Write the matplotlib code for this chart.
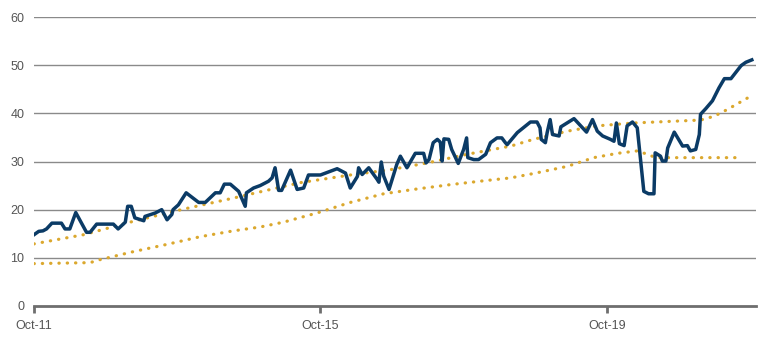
import matplotlib
matplotlib.use("Agg")
import matplotlib.pyplot as plt

plt.rcParams['font.family'] = ['Liberation Sans', 'DejaVu Sans']

# x positions are months since Oct-2011
blue_x = [0, 0.8, 1.5, 2.1, 3, 4.6, 5.2, 6, 7, 8.8, 9.4, 10.5, 13.3, 14.1, 15.3, 15.7, 16.3, 16.9,
          18.4, 18.6, 20.3, 21.4, 22.3, 23.1, 23.3, 24.2, 25.5, 27.6, 28.7, 30.4, 31.2, 31.9, 32.9,
          34.3, 35.4, 35.6, 36.8, 37.9, 39.3, 39.9, 40.4, 41, 41.5, 43, 44.1, 45.2, 46, 48,
          50.8, 52.2, 53, 54.2, 54.4, 55, 56.1, 57.5, 57.8, 58.2, 58.6, 59.5, 60.8, 61.4, 62.5,
          63.9, 65.3, 65.7, 66.2, 66.9, 67.6, 68.1, 68.4, 68.7, 69.5, 70, 71.1, 72, 72.5, 72.7,
          73.7, 74.5, 75.7, 76.5, 77.6, 78.4, 79.0, 79.3, 81, 83.2, 84.3, 84.8, 85, 85.7, 86,
          86.5, 86.9, 88, 88.3, 90.5, 92.6, 93.6, 94.4, 95.3, 96.6, 97.2, 97.6, 98.1, 98.9, 99.4,
          100.3, 101.1, 102.2, 103, 103.9, 104.1, 105, 105.3, 105.9, 106.2, 107.3, 108.7, 109.5,
          110, 110.9, 111.5, 111.7, 112.6, 113.7, 114.8, 115.7, 116.8, 118.5, 119.3, 120.3]
blue_y = [14.8, 15.5, 15.6, 16, 17.2, 17.2, 16, 16, 19.4, 15.3, 15.3, 17, 17, 16, 17.4, 20.7, 20.7, 18.3,
          17.7, 18.6, 19.3, 20, 17.9, 19, 20, 21, 23.5, 21.5, 21.5, 23.5, 23.5, 25.3, 25.3,
          23.8, 20.7, 23.5, 24.5, 25, 25.9, 26.6, 28.7, 24, 24, 28.2, 24.2, 24.5, 27.2, 27.2,
          28.5, 27.6, 24.5, 26.9, 28.7, 27.3, 28.7, 26.3, 25.7, 29.9, 27, 24.2, 29.4, 31.1, 28.7,
          31.7, 31.7, 29.7, 30.4, 33.9, 34.6, 34, 30.1, 34.7, 34.6, 32.5, 29.6, 32.5, 34.9, 30.8,
          30.4, 30.4, 31.5, 33.9, 34.9, 34.9, 33.9, 33.5, 36, 38.2, 38.2, 37, 34.6, 33.9, 36,
          38.7, 35.6, 35.3, 37.2, 38.9, 36.1, 38.7, 36.3, 35.3, 34.6, 34.2, 38, 33.7, 33.3, 37.4,
          38.2, 37, 23.8, 23.3, 23.3, 31.8, 31.1, 30.1, 30.1, 32.8, 36.1, 33.2, 33.3,
          32.2, 32.5, 35.6, 39.8, 41, 42.6, 45.3, 47.2, 47.2, 49.9, 50.6, 51.1]

upper_x = [0, 8.3, 16.7, 25, 33.4, 37.9, 44.6, 53, 59.7, 65.9, 72.6, 79.9, 83.7, 89.4, 94.4,
           100.5, 106.1, 111.7, 114, 116.2, 119.6]
upper_y = [12.9, 14.8, 17.6, 20.1, 22.4, 23.7, 25.6, 27.2, 28.3, 29.7, 31.5, 33.2, 34.6, 36.3, 37.4,
           38, 38.3, 38.6, 39.4, 40.8, 43.2]

lower_x = [0, 9.4, 11, 16.7, 22.3, 27.9, 33.4, 37.9, 41.8, 47.4, 53, 58.6, 64.2, 69.8, 75.4,
           79.9, 83.7, 89.4, 93.8, 97.8, 101.1, 102.8, 104.2, 106.2, 117.6]
lower_y = [8.8, 9.0, 9.6, 11.3, 12.8, 14.4, 15.6, 16.4, 17.4, 19.3, 21.5, 23.3, 24.3, 25.2, 26,
           26.6, 27.5, 29, 30.8, 31.7, 32.2, 31.5, 30.8, 30.8, 30.8]

xtick_pos = [0, 48, 96]
xtick_labels = ["Oct-11", "Oct-15", "Oct-19"]
yticks = [0, 10, 20, 30, 40, 50, 60]

BLUE = "#0B3B66"
GOLD = "#DBA82E"
GRID = "#8A8A8A"
TXT = "#555555"

fig = plt.figure(figsize=(7.7, 3.44), dpi=100)
ax = fig.add_axes([34/770, 1-306/344, (756-34)/770, (306-17)/344])

for v in yticks[1:]:
    ax.axhline(v, color=GRID, lw=1.0, zorder=1)

dot = (0, (0.1, 2.5))
ax.plot(lower_x, lower_y, color=GOLD, lw=2.3, linestyle=dot,
        dash_capstyle="round", zorder=2)
ax.plot(upper_x, upper_y, color=GOLD, lw=2.3, linestyle=dot,
        dash_capstyle="round", zorder=2)
ax.plot(blue_x, blue_y, color=BLUE, lw=2.5, solid_joinstyle="round", zorder=3)

ax.set_xlim(0, 121)
ax.set_ylim(0, 60)
for s in ["top", "right", "left"]:
    ax.spines[s].set_visible(False)
ax.spines["bottom"].set_color("#6E6E6E")
ax.spines["bottom"].set_linewidth(2.0)
ax.spines["bottom"].set_zorder(4)

ax.set_xticks(xtick_pos)
ax.set_xticklabels(xtick_labels)
ax.set_yticks(yticks)
ax.tick_params(axis="x", direction="out", length=5, width=2.0, color="#6E6E6E",
               labelsize=9, labelcolor=TXT, pad=5)
ax.tick_params(axis="y", length=0, labelsize=9, labelcolor=TXT, pad=7)

fig.savefig("out.png", dpi=100)
